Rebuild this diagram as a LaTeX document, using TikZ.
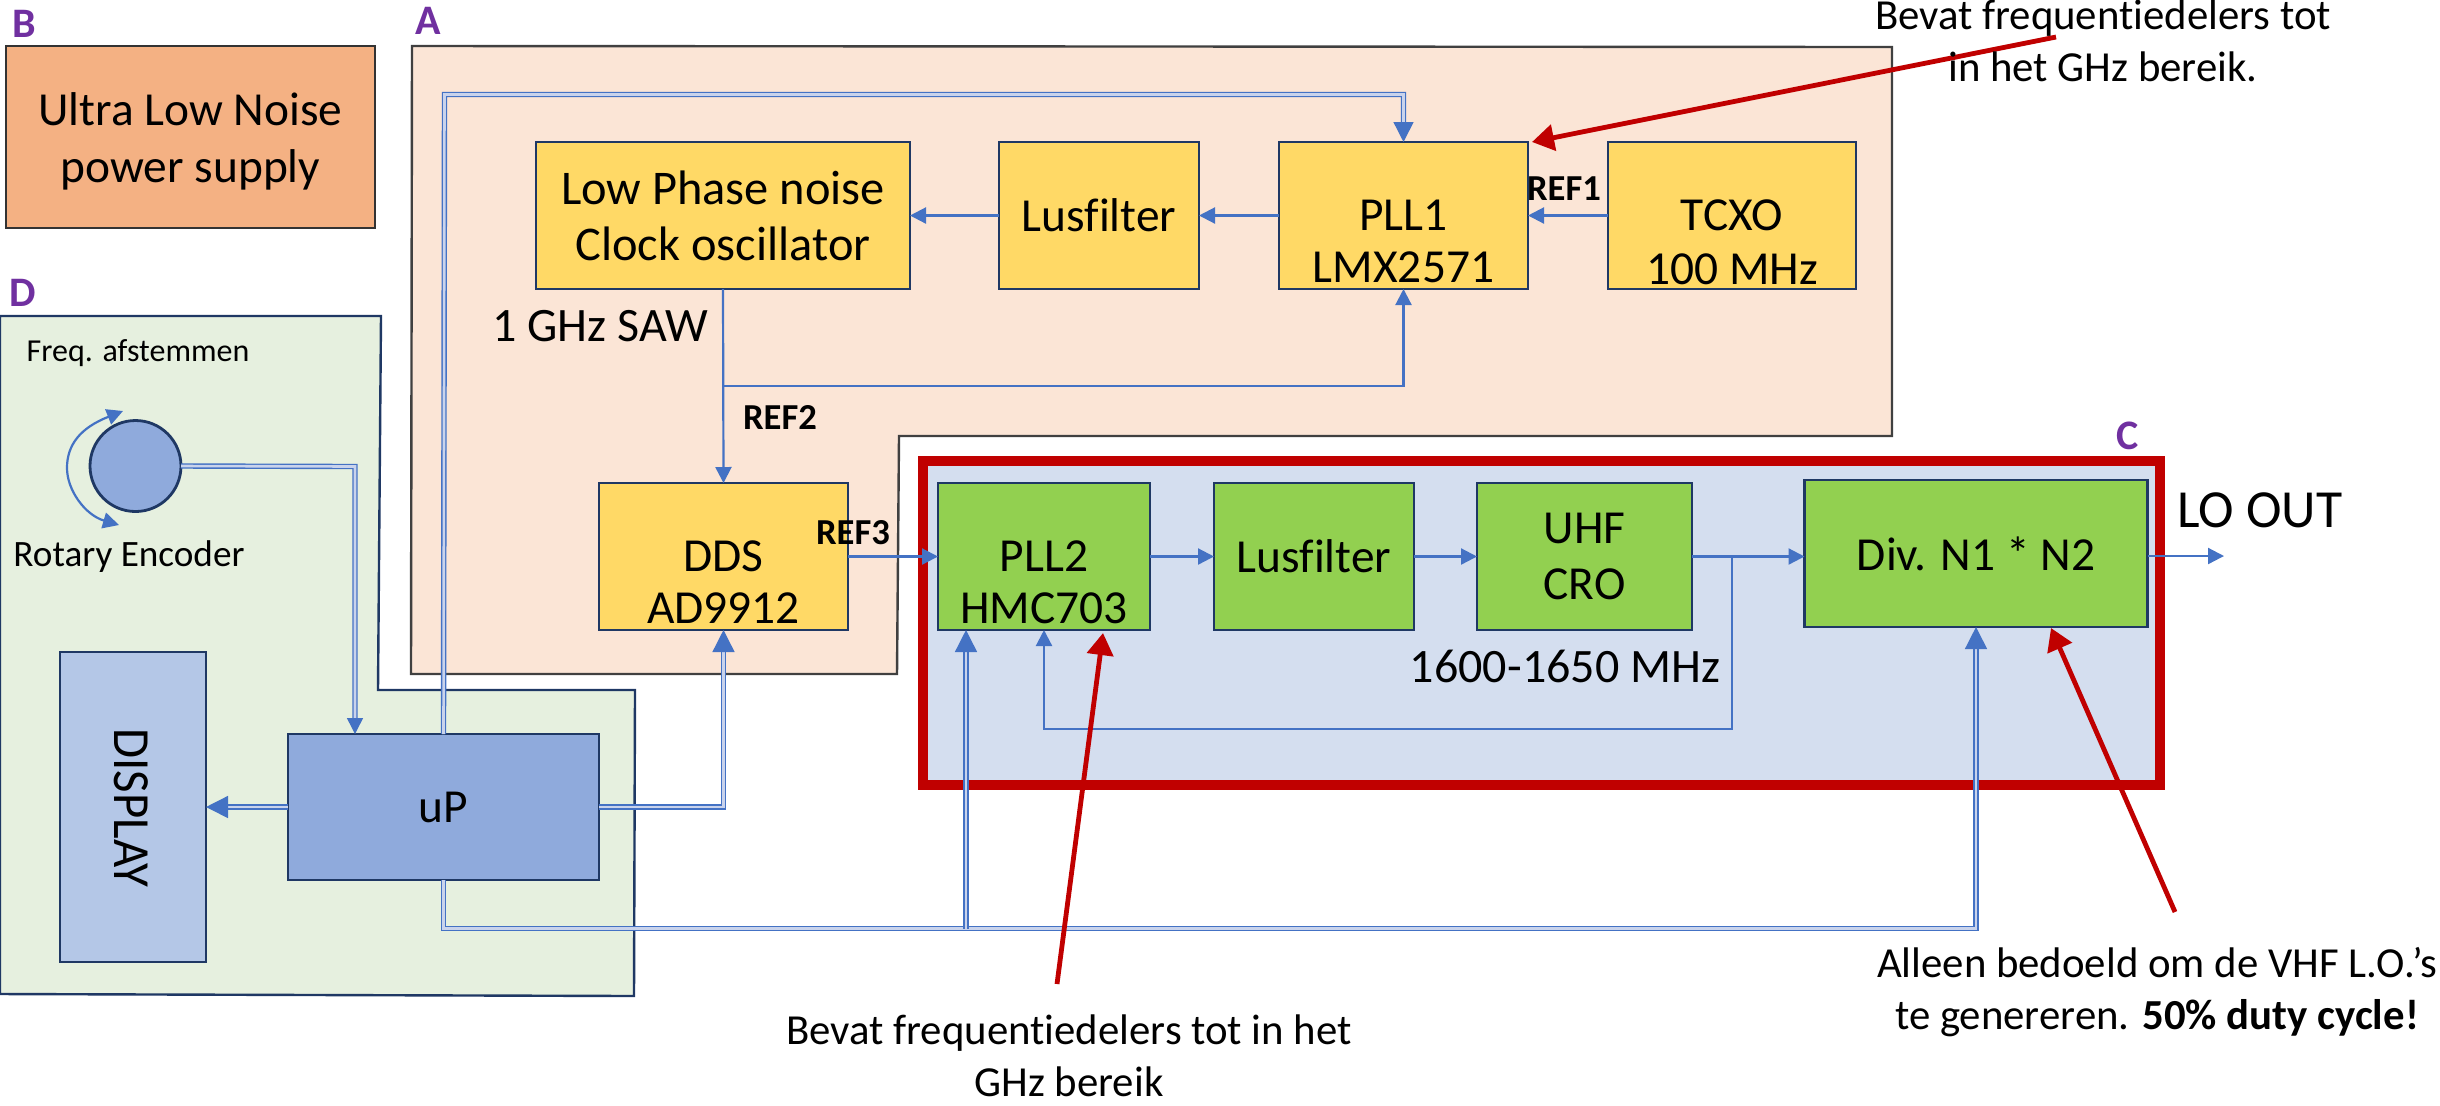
\documentclass[tikz,border=0pt]{standalone}
\usepackage{fontspec}
\setmainfont[Ligatures=NoCommon]{Carlito}
\usetikzlibrary{arrows.meta,calc}
\definecolor{lnblue}{HTML}{4472C4}
\definecolor{navy}{HTML}{1F3864}
\definecolor{redc}{HTML}{C00000}
\definecolor{purp}{HTML}{7030A0}
\definecolor{dblin}{HTML}{C9D3EC}
\definecolor{peach}{HTML}{FBE5D6}
\definecolor{palegrn}{HTML}{E6F0DF}
\definecolor{paleblu}{HTML}{D4DEEF}
\definecolor{orng}{HTML}{F4B183}
\definecolor{ylwf}{HTML}{FFD966}
\definecolor{grnf}{HTML}{92D050}
\definecolor{upf}{HTML}{8FAADC}
\definecolor{dispf}{HTML}{B4C7E7}
\tikzset{
  x=0.5pt,y=-0.5pt,
  blk/.style={draw=navy,line width=1.4pt,inner sep=0pt,outer sep=0pt,align=center,text=black,font=\fontsize{23.7}{28}\selectfont},
  ylw/.style={blk,fill=ylwf},
  grn/.style={blk,fill=grnf},
  sgl/.style={draw=lnblue,line width=1.1pt,-{Triangle[length=8pt,width=8pt]}},
  dbl/.style={draw=lnblue,line width=0.7pt,double=dblin,double distance=1.3pt,-{Triangle[length=11pt,width=11pt,fill=lnblue]}},
  dblsmall/.style={draw=lnblue,line width=0.7pt,double=dblin,double distance=1.3pt,-{Triangle[length=8pt,width=8pt,fill=lnblue]}},
  dblmid/.style={draw=lnblue,line width=0.7pt,double=dblin,double distance=1.3pt,-{Triangle[length=10pt,width=10pt,fill=lnblue]}},
  redarrow/.style={draw=redc,line width=2.4pt,-{Triangle[length=11pt,width=13pt]}},
  lbl/.style={inner sep=0pt,outer sep=0pt,align=center,text=black,font=\fontsize{23.7}{28}\selectfont},
  lblm/.style={lbl,font=\fontsize{21.4}{26}\selectfont},
  lbll/.style={lbl,font=\fontsize{24}{28}\selectfont},
  refl/.style={lbl,font=\bfseries\fontsize{18.3}{20}\selectfont},
  sect/.style={lbl,text=purp,font=\bfseries\fontsize{21}{24}\selectfont},
}
\begin{document}
\begin{tikzpicture}
\useasboundingbox (0,0) rectangle (2440,1105);
% section backgrounds
\draw[draw=black!75,line width=1.2pt,fill=peach]
  (412,46) -- (1892,47) -- (1892,436) -- (899,436) -- (897,674) -- (411,674) -- cycle;
\draw[draw=navy,line width=1.2pt,fill=palegrn]
  (0,316) -- (381,316) -- (378,690) -- (635,690) -- (634,996) -- (0,994) -- cycle;
\draw[draw=redc,line width=5pt,fill=paleblu]
  (923,461) rectangle (2160,785);
\node[draw=black!80,line width=1.2pt,fill=orng,inner sep=0pt,outer sep=0pt,align=center,
  minimum width=184.5pt,minimum height=91pt,font=\fontsize{23.7}{28.5}\selectfont] (psu) at (190.5,137) {~\\[-8pt]Ultra Low Noise\\power supply};
% section letters
\node[sect] (lb) at (24,24) {B};
\node[sect] (la) at (428,21) {A};
\node[sect] (ld) at (23,293) {D};
\node[sect] (lc) at (2128,436) {C};
% blocks A
\node[ylw,minimum width=187pt,minimum height=73.5pt,font=\fontsize{24.2}{28}\selectfont] (clock) at (723,215.5) {Low Phase noise\\Clock oscillator};
\node[ylw,minimum width=100pt,minimum height=73.5pt] (lus1) at (1099,215.5) {Lusfilter};
\node[ylw,minimum width=124.5pt,minimum height=73.5pt,font=\fontsize{23.7}{26}\selectfont] (pll1) at (1403.5,215.5) {~\\[15pt]PLL1\\LMX2571};
\node[ylw,minimum width=124pt,minimum height=73.5pt,font=\fontsize{23.7}{27}\selectfont] (tcxo) at (1732,215.5) {~\\[15pt]TCXO\\100 MHz};
\node[ylw,minimum width=124.5pt,minimum height=73.5pt,font=\fontsize{23.7}{26}\selectfont] (dds) at (723.5,556.5) {~\\[15pt]DDS\\AD9912};
% blocks C
\node[grn,minimum width=106pt,minimum height=73.5pt,font=\fontsize{23.7}{26}\selectfont] (pll2) at (1044,556.5) {~\\[15pt]PLL2\\HMC703};
\node[grn,minimum width=100pt,minimum height=73.5pt] (lus2) at (1314,556.5) {Lusfilter};
\node[grn,minimum width=107.5pt,minimum height=73.5pt] (uhf) at (1584.5,556.5) {UHF\\CRO};
\node[grn,minimum width=171.5pt,minimum height=73.5pt] (div) at (1976,553.5) {Div. N1 * N2};
% blocks D
\node[blk,fill=upf,minimum width=155.5pt,minimum height=73pt] (up) at (443.5,807) {uP};
\node[blk,fill=dispf,minimum width=73pt,minimum height=155pt] (disp) at (133,807) {};
\node[lbl,rotate=-90] (disptxt) at (131,808) {\scalebox{1.03}[1.1]{DISPLAY}};
\node[blk,circle,fill=upf,minimum size=45.5pt] (enc) at (135.5,466) {};
% encoder rotation arrows
\coordinate (rotA) at (123,411);
\coordinate (rotB) at (119,525);
\draw[draw=lnblue,line width=1.1pt,{Triangle[length=8pt,width=8pt]}-{Triangle[length=8pt,width=8pt]}]
  (rotA) .. controls (80,428) and (67,445) .. (67,468) .. controls (67,490) and (85,515) .. (rotB);
% single connectors
\draw[sgl] (tcxo.west) -- (pll1.east);
\draw[sgl] (pll1.west) -- (lus1.east);
\draw[sgl] (lus1.west) -- (clock.east);
\draw[sgl] (clock.south) -- (dds.north);
\coordinate (brA) at (clock.south |- 0,386);
\draw[sgl] (brA) -| (pll1.south);
\draw[sgl] (dds.east) -- (pll2.west);
\draw[sgl] (pll2.east) -- (lus2.west);
\draw[sgl] (lus2.east) -- (uhf.west);
\coordinate (brC) at (1732,556);
\draw[sgl] (uhf.east) -- (div.west |- uhf.east);
\coordinate (brC2) at (1732,729);
\draw[sgl] (brC) -- (brC2) -| (pll2.south);
\coordinate (loend) at (2224,556);
\draw[sgl] (div.east |- loend) -- (loend);
% double connectors
\coordinate (encCorner) at (355,466.5);
\coordinate (encEnd) at (355,734);
\draw[dblsmall] (enc.east) -- (encCorner) -- (encEnd);
\coordinate (upT) at (444.5,94.5);
\draw[dblmid] (up.north) -- (upT) -| (pll1.north);
\coordinate (upR) at (723.5,807);
\draw[dbl] (up.east) -- (upR) -- (dds.south);
\draw[dbl] (up.west) -- (disp.east);
\coordinate (busL) at (966,928.5);
\coordinate (busLend) at (966,630);
\draw[dbl] (up.south) |- (1976,928.5) -- (div.south);
\draw[dbl] (busL) -- (busLend);
% red arrows
\coordinate (r1) at (2056,37);
\coordinate (r1t) at (1532,142);
\draw[redarrow] (r1) -- (r1t);
\coordinate (r2) at (1057,984);
\coordinate (r2t) at (1103,633);
\draw[redarrow] (r2) -- (r2t);
\coordinate (r3) at (2175,912);
\coordinate (r3t) at (2051,628);
\draw[redarrow] (r3) -- (r3t);
% labels
\node[lbl,font=\fontsize{16}{20}\selectfont] (freq) at (138,353) {Freq. afstemmen};
\node[lbl,font=\fontsize{18.6}{22}\selectfont] (rot) at (129,557) {Rotary Encoder};
\node[lbll] (saw) at (600,326) {1 GHz SAW};
\node[refl] (ref2) at (780,417) {REF2};
\node[refl] (ref3) at (853,533) {REF3};
\node[refl] (ref1) at (1564,189) {REF1};
\node[lbl,font=\fontsize{26.8}{30}\selectfont] (lo) at (2260,510) {LO OUT};
\node[lbll] (mhz) at (1565,666) {1600-1650 MHz};
\node[lblm] (nt1) at (2103,41) {Bevat frequentiedelers tot\\in het GHz bereik.};
\node[lblm] (nt2) at (1069,1056) {Bevat frequentiedelers tot in het\\GHz bereik};
\node[lblm] (nt3) at (2157,992) {Alleen bedoeld om de VHF L.O.’s\\te genereren. \textbf{50\% duty cycle!}};
\end{tikzpicture}
\end{document}
